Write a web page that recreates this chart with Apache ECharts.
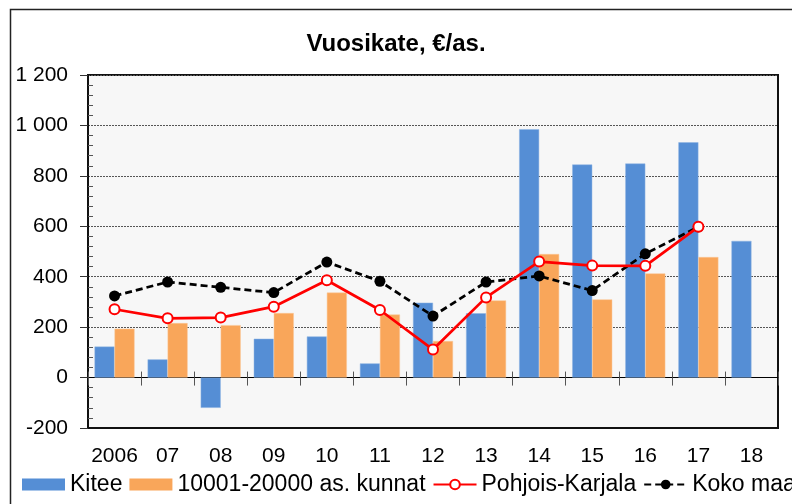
<!DOCTYPE html>
<html>
<head>
<meta charset="utf-8">
<script src="https://cdn.jsdelivr.net/npm/echarts@6/dist/echarts.min.js"></script>
<style>
html,body{margin:0;padding:0;background:#fff;}
#c{width:792px;height:504px;}
</style>
</head>
<body>
<div id="c"></div>
<script>
const categories = ['2006','07','08','09','10','11','12','13','14','15','16','17','18'];
const kitee = [123, 72, -120, 154, 163, 56, 297, 255, 985, 845, 849, 933, 542];
const kunnat = [194, 216, 208, 256, 337, 250, 145, 306, 490, 310, 413, 478, null];
const pohjoisKarjala = [271, 235, 238, 281, 386, 268, 111, 318, 460, 444, 443, 598, null];
const kokoMaa = [324, 379, 358, 337, 458, 382, 244, 379, 403, 345, 491, 598, null];
const seriesNames = ['Kitee', '10001-20000 as. kunnat', 'Pohjois-Karjala', 'Koko maa'];
const titleText = 'Vuosikate, €/as.';

const FONT = '"Liberation Sans", Arial, sans-serif';
const chart = echarts.init(document.getElementById('c'), null, {renderer: 'canvas'});

function fmt(v) {
  const s = String(Math.abs(v));
  const r = s.replace(/\B(?=(\d{3})+(?!\d))/g, ' ');
  return (v < 0 ? '-' : '') + r;
}

const option = {
  backgroundColor: '#ffffff',
  animation: false,
  textStyle: {fontFamily: FONT},
  title: {
    text: titleText,
    left: 'center',
    top: 27,
    textStyle: {fontFamily: FONT, fontSize: 24, fontWeight: 'bold', color: '#000'}
  },
  graphic: [{
    type: 'rect',
    shape: {x: 10.5, y: 9.5, width: 820, height: 520},
    style: {fill: 'none', stroke: '#222', lineWidth: 1.5},
    silent: true, z: 100
  }],
  grid: {
    left: 88, right: 14, top: 75, bottom: 76,
    show: true, backgroundColor: '#f7f7f7', borderColor: '#111', borderWidth: 2
  },
  legend: {
    left: 22, top: 473, width: 1200, padding: 0,
    itemWidth: 43, itemHeight: 12, itemGap: 7,
    textStyle: {fontFamily: FONT, fontSize: 23, color: '#000'},
    data: [
      {name: seriesNames[0], icon: 'rect', itemStyle: {borderWidth: 0}},
      {name: seriesNames[1], icon: 'rect', itemStyle: {borderWidth: 0}},
      {name: seriesNames[2]},
      {name: seriesNames[3]}
    ]
  },
  xAxis: [
    {
      type: 'category', data: categories, position: 'bottom',
      axisLine: {onZero: true, lineStyle: {color: '#000', width: 1}},
      axisTick: {show: true, interval: 0, length: 8, lineStyle: {color: '#555', width: 1}},
      axisLabel: {show: false},
      splitLine: {show: false}
    },
    {
      type: 'category', data: categories, position: 'bottom',
      axisLine: {onZero: true, lineStyle: {color: '#000', width: 1}},
      axisTick: {show: true, interval: 0, inside: true, length: 6, lineStyle: {color: '#555', width: 1}},
      axisLabel: {show: false},
      splitLine: {show: false}
    },
    {
      type: 'category', data: categories, position: 'bottom',
      axisLine: {onZero: false, lineStyle: {color: '#111', width: 2}},
      axisTick: {show: false},
      axisLabel: {show: true, interval: 0, margin: 18, fontSize: 21, color: '#000', fontFamily: FONT},
      splitLine: {show: false}
    }
  ],
  yAxis: [
    {
      type: 'value', min: -200, max: 1200, interval: 200,
      axisLine: {show: true, lineStyle: {color: '#111', width: 2}},
      axisTick: {show: true, length: 8, lineStyle: {color: '#333', width: 1}},
      axisLabel: {margin: 20, fontSize: 21, color: '#000', fontFamily: FONT, formatter: fmt},
      splitLine: {show: true, lineStyle: {color: '#555', type: [2, 1], width: 1}}
    },
    {
      type: 'value', min: -200, max: 1200, interval: 200, position: 'left',
      axisLine: {show: false},
      axisTick: {show: false, inside: true},
      minorTick: {show: true, splitNumber: 5, length: 5, lineStyle: {color: '#555', width: 1}},
      axisLabel: {show: false},
      splitLine: {show: false}
    }
  ],
  series: [
    {
      name: seriesNames[0], type: 'bar', data: kitee,
      barWidth: 20, barGap: '0%',
      itemStyle: {color: '#558ed5', borderColor: '#8fb4e3', borderWidth: 0.5}
    },
    {
      name: seriesNames[1], type: 'bar', data: kunnat,
      barWidth: 20, barGap: '0%',
      itemStyle: {color: '#f9a65a', borderColor: '#fbc796', borderWidth: 0.5}
    },
    {
      name: seriesNames[2], type: 'line', data: pohjoisKarjala,
      symbol: 'circle', symbolSize: 10, z: 5,
      lineStyle: {color: '#ff0000', width: 2.75},
      itemStyle: {color: '#ffffff', borderColor: '#ff0000', borderWidth: 2}
    },
    {
      name: seriesNames[3], type: 'line', data: kokoMaa,
      symbol: 'circle', symbolSize: 11, z: 4,
      lineStyle: {color: '#000000', width: 2.75, type: [7, 4]},
      itemStyle: {color: '#000000', borderColor: '#000000', borderWidth: 0}
    }
  ]
};
chart.setOption(option);
</script>
</body>
</html>
